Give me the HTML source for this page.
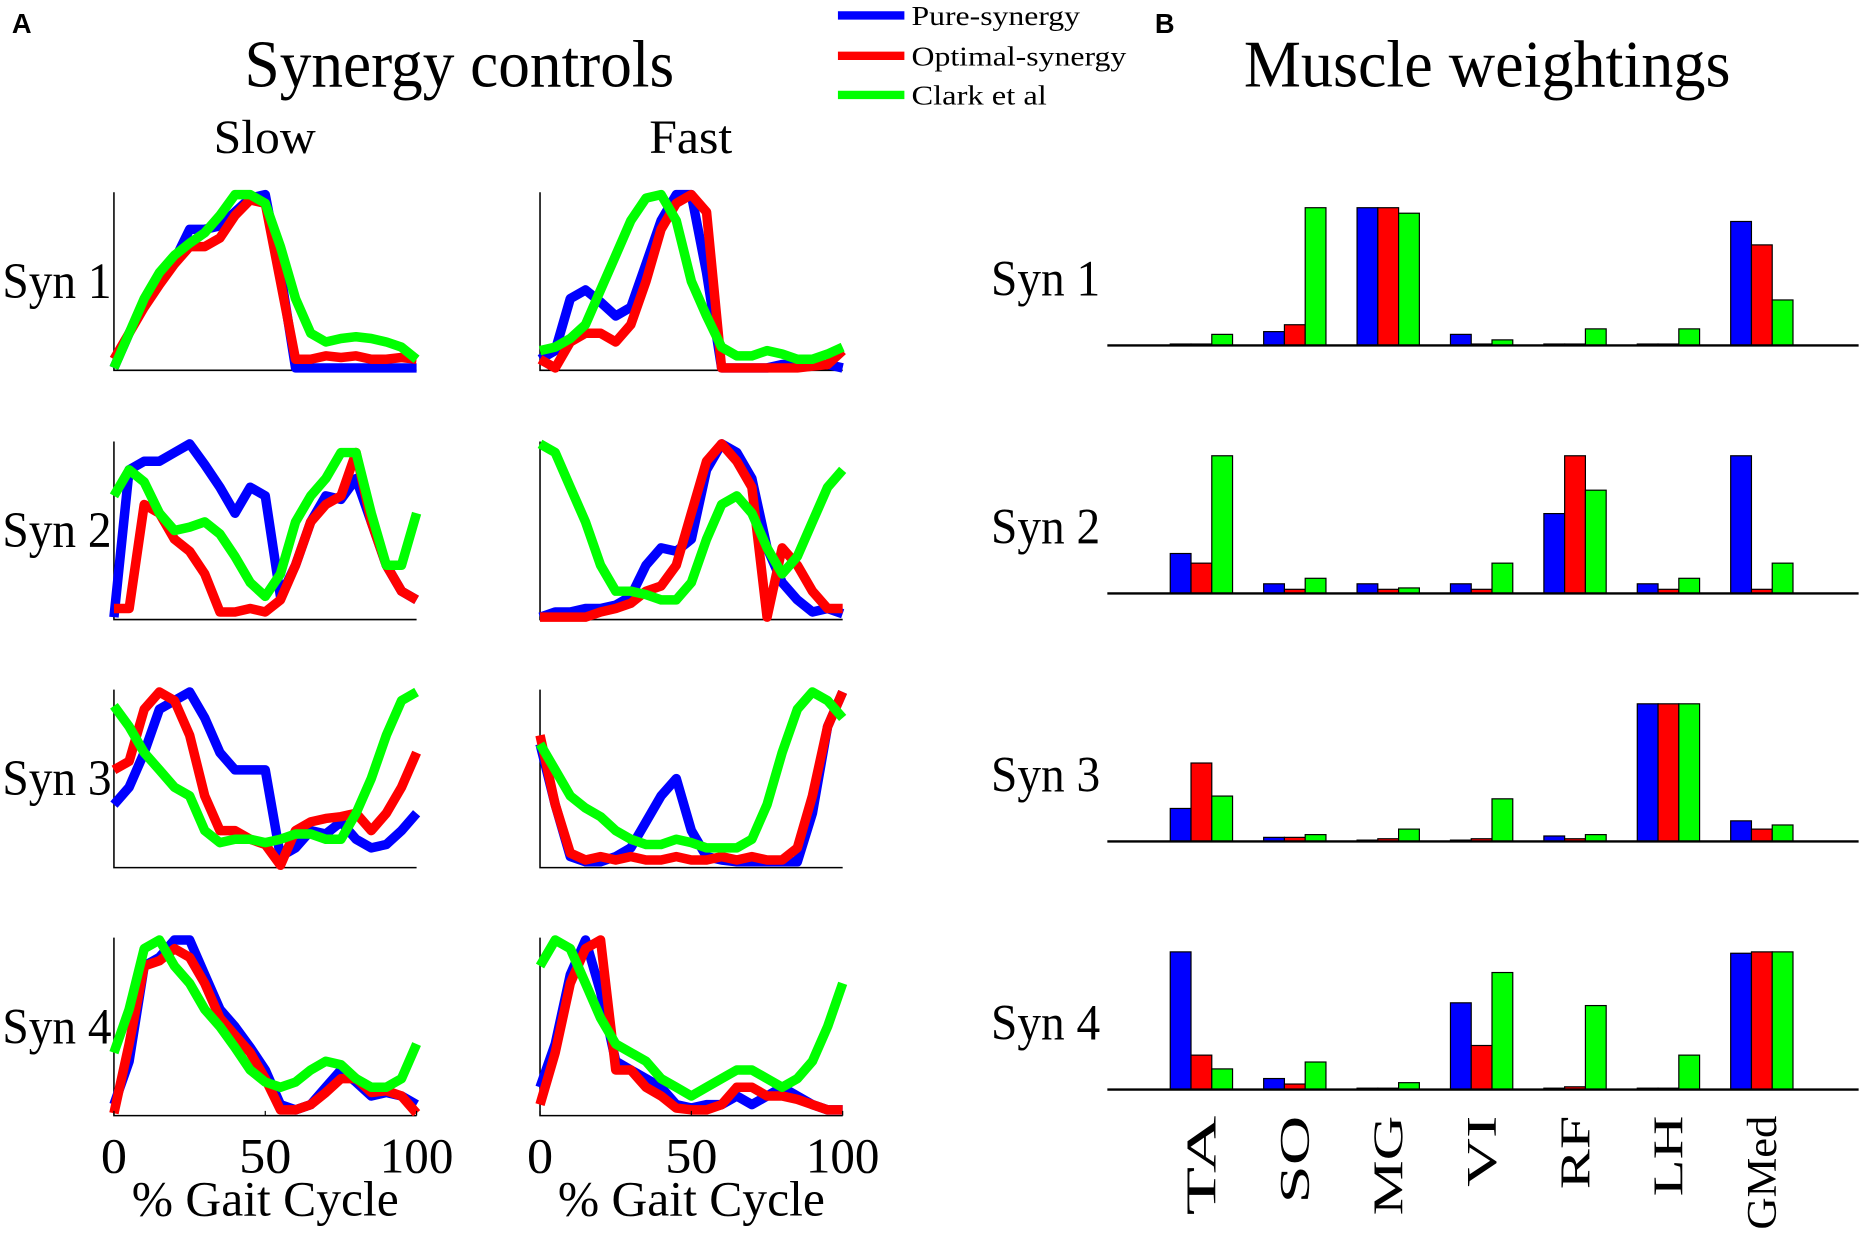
<!DOCTYPE html>
<html><head><meta charset="utf-8"><style>
html,body{margin:0;padding:0;background:#fff;}
svg{display:block;}
text{font-family:"Liberation Serif",serif;fill:#000;}
</style></head><body>
<svg id="fig" width="1861" height="1234" viewBox="0 0 1568 1039.7" xmlns="http://www.w3.org/2000/svg">
<text x="10" y="28" style="font-family:'Liberation Sans',sans-serif;font-weight:bold;font-size:23px">A</text>
<text x="973" y="28" style="font-family:'Liberation Sans',sans-serif;font-weight:bold;font-size:23px">B</text>
<text x="387" y="73" text-anchor="middle" font-size="56" textLength="362" lengthAdjust="spacingAndGlyphs">Synergy controls</text>
<text x="1253" y="73" text-anchor="middle" font-size="56" textLength="410" lengthAdjust="spacingAndGlyphs">Muscle weightings</text>
<text x="223" y="129" text-anchor="middle" font-size="40" textLength="86" lengthAdjust="spacingAndGlyphs">Slow</text>
<text x="582" y="129" text-anchor="middle" font-size="40" textLength="70" lengthAdjust="spacingAndGlyphs">Fast</text>
<g>
<line x1="706" y1="13" x2="762" y2="13" stroke="#0000ff" stroke-width="7"/>
<text x="768" y="21" font-size="23" textLength="142" lengthAdjust="spacingAndGlyphs">Pure-synergy</text>
<line x1="706" y1="47" x2="762" y2="47" stroke="#ff0000" stroke-width="7"/>
<text x="768" y="55" font-size="23" textLength="181" lengthAdjust="spacingAndGlyphs">Optimal-synergy</text>
<line x1="706" y1="80" x2="762" y2="80" stroke="#00ff00" stroke-width="7"/>
<text x="768" y="88" font-size="23" textLength="114" lengthAdjust="spacingAndGlyphs">Clark et al</text>
</g>
<g id="lines"></g>
<g id="bars"></g>
</svg>
<script>
const xPct=[0,5,10,15,20,25,30,35,40,45,50,55,60,65,70,75,80,85,90,95,100];
const xTicks=[0,50,100];
const muscles=["TA","SO","MG","VI","RF","LH","GMed"];
const synLabels=["Syn 1","Syn 2","Syn 3","Syn 4"];
// slow series
const slow1B=[0,.2,.38,.52,.62,.8,.8,.82,.9,.98,1,.55,0,0,0,0,0,0,0,0,0];
const slow1R=[.05,.2,.35,.48,.6,.7,.7,.75,.88,.97,.95,.5,.05,.05,.07,.06,.07,.05,.05,.06,.05];
const slow1G=[0,.2,.4,.55,.65,.72,.78,.88,1,1,.95,.7,.4,.2,.15,.17,.18,.17,.15,.12,.05];
const slow2B=[0,.85,.9,.9,.95,1,.88,.75,.6,.75,.7,.12,.3,.55,.7,.68,.8,.55,.3,.15,.1];
const slow2R=[.05,.05,.65,.6,.45,.38,.25,.03,.03,.05,.03,.1,.3,.55,.65,.7,.95,.55,.3,.15,.1];
const slow2G=[.7,.85,.78,.6,.5,.52,.55,.48,.35,.2,.12,.25,.55,.7,.8,.95,.95,.6,.3,.3,.6];
const slow3B=[.35,.45,.65,.9,.95,1,.85,.65,.55,.55,.55,.05,.1,.2,.18,.25,.15,.1,.12,.2,.3];
const slow3R=[.55,.6,.9,1,.95,.75,.4,.2,.2,.15,.12,0,.2,.25,.27,.28,.3,.2,.3,.45,.65];
const slow3G=[.92,.8,.65,.55,.45,.4,.2,.13,.15,.15,.13,.15,.18,.18,.15,.15,.3,.5,.75,.95,1];
const slow4B=[.05,.3,.85,.9,1,1,.8,.6,.5,.38,.25,.05,.02,.05,.15,.25,.18,.1,.12,.1,.05];
const slow4R=[0,.4,.85,.88,.95,.9,.75,.55,.45,.35,.2,.02,.02,.05,.12,.2,.2,.12,.13,.1,0];
const slow4G=[.35,.6,.95,1,.85,.75,.6,.5,.38,.25,.18,.15,.18,.25,.3,.28,.2,.15,.15,.2,.4];
// fast series
const fast1B=[.05,.1,.4,.45,.38,.3,.35,.6,.85,1,1,.55,0,0,0,0,.02,.02,.02,.02,0];
const fast1R=[.05,0,.15,.2,.2,.15,.25,.5,.8,.95,1,.9,0,0,0,0,0,0,.01,.02,.1];
const fast1G=[.1,.12,.17,.25,.45,.65,.85,.98,1,.85,.5,.3,.12,.07,.07,.1,.08,.05,.05,.08,.12];
const fast2B=[0,.03,.03,.05,.05,.07,.12,.3,.4,.38,.45,.85,1,.95,.8,.4,.2,.1,.03,.05,.02];
const fast2R=[0,0,0,0,.03,.05,.08,.15,.18,.3,.6,.9,1,.9,.75,0,.4,.3,.15,.05,.05];
const fast2G=[1,.95,.75,.55,.3,.15,.15,.13,.1,.1,.2,.45,.65,.7,.6,.4,.25,.35,.55,.75,.85];
const fast3B=[.7,.35,.05,.02,.02,.05,.1,.25,.4,.5,.2,.05,.03,.02,.02,.02,.02,.02,.3,.8,1];
const fast3R=[.75,.35,.07,.03,.05,.03,.05,.03,.03,.05,.03,.03,.05,.03,.05,.03,.03,.1,.4,.8,1];
const fast3G=[.7,.55,.4,.33,.28,.2,.15,.12,.12,.15,.13,.1,.1,.1,.15,.35,.65,.9,1,.95,.85];
const fast4B=[.15,.4,.8,1,.7,.3,.25,.2,.15,.05,.03,.05,.05,.1,.05,.1,.15,.1,.05,.02,.02];
const fast4R=[.05,.35,.75,.95,1,.25,.25,.15,.1,.03,.02,.02,.05,.15,.15,.1,.1,.08,.05,.02,.02];
const fast4G=[.85,1,.95,.75,.55,.4,.35,.3,.2,.15,.1,.15,.2,.25,.25,.2,.15,.2,.3,.5,.75];
// bar weights per muscle
const syn1Pure=[.01,.1,1,.08,.01,.01,.9];
const syn1Opt=[.01,.15,1,.01,.01,.01,.73];
const syn1Clark=[.08,1,.96,.04,.12,.12,.33];
const syn2Pure=[.29,.07,.07,.07,.58,.07,1];
const syn2Opt=[.22,.03,.03,.03,1,.03,.03];
const syn2Clark=[1,.11,.04,.22,.75,.11,.22];
const syn3Pure=[.24,.03,.01,.01,.04,1,.15];
const syn3Opt=[.57,.03,.02,.02,.02,1,.09];
const syn3Clark=[.33,.05,.09,.31,.05,1,.12];
const syn4Pure=[1,.08,.01,.63,.01,.01,.99];
const syn4Opt=[.25,.04,.01,.32,.02,.01,1];
const syn4Clark=[.15,.2,.05,.85,.61,.25,1];

const NS="http://www.w3.org/2000/svg";
function mk(tag,attrs,parent){const e=document.createElementNS(NS,tag);for(const k in attrs)e.setAttribute(k,attrs[k]);parent.appendChild(e);return e;}
const colors=["#0000ff","#ff0000","#00ff00"];
const lineG=document.getElementById('lines');
const rowTop=[162,372,581,790], rowH=150;
const colX=[96,455], colW=255;
const slowS=[[slow1B,slow1R,slow1G],[slow2B,slow2R,slow2G],[slow3B,slow3R,slow3G],[slow4B,slow4R,slow4G]];
const fastS=[[fast1B,fast1R,fast1G],[fast2B,fast2R,fast2G],[fast3B,fast3R,fast3G],[fast4B,fast4R,fast4G]];
const names=["pure","optimal","clark"];
const tickW={0:22,50:44,100:62};
[slowS,fastS].forEach((set,c)=>{
  const x0=colX[c];
  const sx=v=>x0+v/100*colW;
  set.forEach((series,r)=>{
    const top=rowTop[r];
    const sy=v=>top+rowH-v*(rowH-4)-2;
    const g=mk('g',{},lineG);
    
    
    const ax=mk('path',{d:`M${x0},${top} V${top+rowH} H${x0+colW}`,fill:'none',stroke:'#000','stroke-width':1.3},g);
    
    
    series.forEach((s,k)=>{
      const d=s.map((v,i)=>(i?'L':'M')+sx(xPct[i]).toFixed(1)+','+sy(v).toFixed(1)).join(' ');
      const p=mk('path',{d:d,fill:'none',stroke:colors[k],'stroke-width':8,'stroke-linejoin':'round'},g);
      
      
    });
    if(r===3){
      xTicks.forEach(t=>{
        const tk=mk('line',{x1:sx(t),y1:top+rowH,x2:sx(t),y2:top+rowH-4,stroke:'#000','stroke-width':1},g);
        
        
        const tl=mk('text',{x:sx(t),y:988,'text-anchor':'middle','font-size':42,textLength:tickW[t]||40,lengthAdjust:'spacingAndGlyphs'},g);
        tl.textContent=t;
        
        
      });
      const xt=mk('text',{x:x0+colW/2,y:1024,'text-anchor':'middle','font-size':42,textLength:225,lengthAdjust:'spacingAndGlyphs'},g);
      xt.textContent='% Gait Cycle';
      
      
    }
    if(c===0){
      const sl=mk('text',{x:2,y:top+rowH/2+14,'font-size':43,textLength:92,lengthAdjust:'spacingAndGlyphs'},g);
      sl.textContent=synLabels[r];
      
      
    }
  });
});
// bars
const barG=document.getElementById('bars');
const barSets=[[syn1Pure,syn1Opt,syn1Clark],[syn2Pure,syn2Opt,syn2Clark],[syn3Pure,syn3Opt,syn3Clark],[syn4Pure,syn4Opt,syn4Clark]];
const baseY=[291,500,709,918], maxH=116, bw=17.5, g0=986, gStep=78.7;
barSets.forEach((set,r)=>{
  const g=mk('g',{},barG);
  
  
  const lab=mk('text',{x:835,y:baseY[r]-42,'font-size':43,textLength:92,lengthAdjust:'spacingAndGlyphs'},g);
  lab.textContent=synLabels[r];
  
  
  set.forEach((vals,k)=>{
    vals.forEach((v,m)=>{
      const h=Math.max(v*maxH,0.8);
      const b=mk('rect',{x:g0+m*gStep+k*bw,y:baseY[r]-h,width:bw,height:h,fill:colors[k],stroke:'#000','stroke-width':1},g);
      
      
    });
  });
  const bl=mk('line',{x1:933,y1:baseY[r],x2:1566,y2:baseY[r],stroke:'#000','stroke-width':2},g);
  
  
});
const mLen={TA:84,SO:74,MG:84,VI:60,RF:62,LH:68,GMed:96};
muscles.forEach((m,i)=>{
  const cx=g0+i*gStep+1.5*bw+12;
  const t=mk('text',{x:0,y:0,'font-size':36,'text-anchor':'end',textLength:mLen[m],lengthAdjust:'spacingAndGlyphs',transform:`translate(${cx},940) rotate(-90)`},barG);
  t.textContent=m;
  
  
});
</script>
</body></html>
